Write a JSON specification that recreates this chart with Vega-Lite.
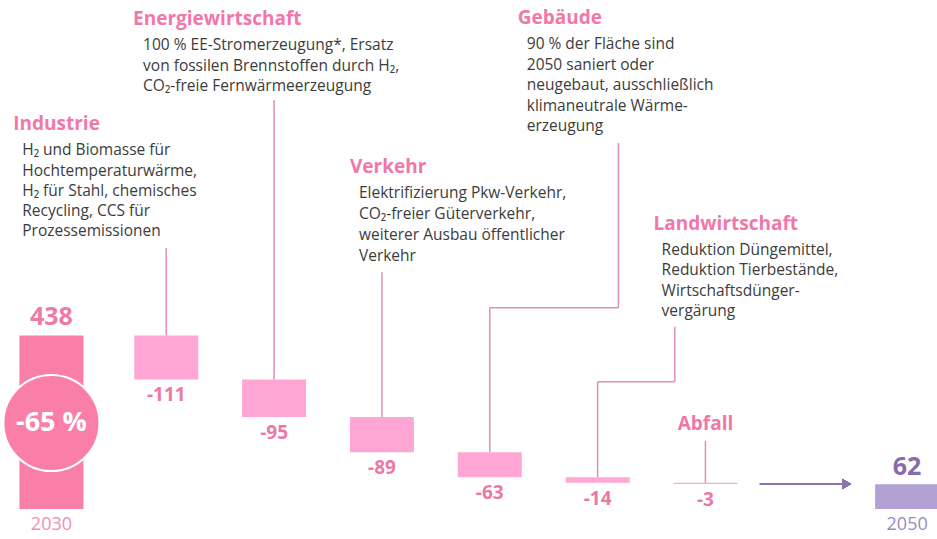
{
  "$schema": "https://vega.github.io/schema/vega-lite/v6.json",
  "width": 937,
  "height": 539,
  "autosize": {"type": "none"},
  "padding": 0,
  "background": "white",
  "config": {"view": {"stroke": null}, "font": "Open Sans"},
  "data": {
    "values": [
      {"key": "2030", "kind": "year", "i": 0, "start": 0, "end": 438, "label": "438", "change": "-65 %"},
      {"key": "Industrie", "kind": "sector", "i": 1, "start": 438, "end": 327, "label": "-111", "desc": ["H₂ und Biomasse für", "Hochtemperaturwärme,", "H₂ für Stahl, chemisches", "Recycling, CCS für", "Prozessemissionen"]},
      {"key": "Energiewirtschaft", "kind": "sector", "i": 2, "start": 327, "end": 232, "label": "-95", "desc": ["100 % EE-Stromerzeugung*, Ersatz", "von fossilen Brennstoffen durch H₂,", "CO₂-freie Fernwärmeerzeugung"]},
      {"key": "Verkehr", "kind": "sector", "i": 3, "start": 232, "end": 143, "label": "-89", "desc": ["Elektrifizierung Pkw-Verkehr,", "CO₂-freier Güterverkehr,", "weiterer Ausbau öffentlicher", "Verkehr"]},
      {"key": "Gebäude", "kind": "sector", "i": 4, "start": 143, "end": 80, "label": "-63", "desc": ["90 % der Fläche sind", "2050 saniert oder", "neugebaut, ausschließlich", "klimaneutrale Wärme-", "erzeugung"]},
      {"key": "Landwirtschaft", "kind": "sector", "i": 5, "start": 80, "end": 66, "label": "-14", "desc": ["Reduktion Düngemittel,", "Reduktion Tierbestände,", "Wirtschaftsdünger-", "vergärung"]},
      {"key": "Abfall", "kind": "sector", "i": 6, "start": 66, "end": 63, "label": "-3"},
      {"key": "2050", "kind": "year", "i": 8, "start": 0, "end": 62, "label": "62"}
    ]
  },
  "encoding": {
    "x": {"field": "i", "type": "quantitative", "scale": {"domain": [-0.4954, 8.1009], "nice": false, "zero": false}, "axis": null},
    "y": {"field": "start", "type": "quantitative", "scale": {"domain": [-76, 1285.4], "nice": false, "zero": false}, "axis": null}
  },
  "layer": [
    {
      "transform": [{"filter": {"field": "key", "equal": "Industrie"}}],
      "mark": {"type": "rule", "color": "#e190b9", "strokeWidth": 1.5},
      "encoding": {"y2": {"datum": 659}}
    },
    {
      "transform": [{"filter": {"field": "key", "equal": "Energiewirtschaft"}}],
      "mark": {"type": "rule", "color": "#e190b9", "strokeWidth": 1.5},
      "encoding": {"y2": {"datum": 1033}}
    },
    {
      "transform": [{"filter": {"field": "key", "equal": "Verkehr"}}],
      "mark": {"type": "rule", "color": "#e190b9", "strokeWidth": 1.5},
      "encoding": {"y2": {"datum": 598}}
    },
    {
      "transform": [{"filter": {"field": "key", "equal": "Gebäude"}}],
      "mark": {"type": "rule", "color": "#e190b9", "strokeWidth": 1.5},
      "encoding": {"y2": {"datum": 508}}
    },
    {
      "transform": [{"filter": {"field": "key", "equal": "Gebäude"}}],
      "mark": {"type": "rule", "color": "#e190b9", "strokeWidth": 1.5},
      "encoding": {"x2": {"datum": 5.193}, "y": {"datum": 508}}
    },
    {
      "transform": [{"filter": {"field": "key", "equal": "Gebäude"}}],
      "mark": {"type": "rule", "color": "#e190b9", "strokeWidth": 1.5},
      "encoding": {"x": {"datum": 5.193}, "y": {"datum": 508}, "y2": {"datum": 924}}
    },
    {
      "transform": [{"filter": {"field": "key", "equal": "Landwirtschaft"}}],
      "mark": {"type": "rule", "color": "#e190b9", "strokeWidth": 1.5},
      "encoding": {"y2": {"datum": 321}}
    },
    {
      "transform": [{"filter": {"field": "key", "equal": "Landwirtschaft"}}],
      "mark": {"type": "rule", "color": "#e190b9", "strokeWidth": 1.5},
      "encoding": {"x2": {"datum": 5.716}, "y": {"datum": 321}}
    },
    {
      "transform": [{"filter": {"field": "key", "equal": "Landwirtschaft"}}],
      "mark": {"type": "rule", "color": "#e190b9", "strokeWidth": 1.5},
      "encoding": {"x": {"datum": 5.716}, "y": {"datum": 321}, "y2": {"datum": 460}}
    },
    {
      "transform": [{"filter": {"field": "key", "equal": "Abfall"}}],
      "mark": {"type": "rule", "color": "#e190b9", "strokeWidth": 1.5},
      "encoding": {"y2": {"datum": 172}}
    },
    {
      "transform": [{"filter": {"field": "kind", "equal": "sector"}}],
      "mark": {"type": "bar", "width": 64, "color": "#ffa6d4"},
      "encoding": {"y2": {"field": "end"}}
    },
    {
      "transform": [{"filter": {"field": "key", "equal": "2030"}}],
      "mark": {"type": "bar", "width": 64, "color": "#f97fa9", "xOffset": -7},
      "encoding": {"y2": {"field": "end"}}
    },
    {
      "transform": [{"filter": {"field": "key", "equal": "2050"}}],
      "mark": {"type": "bar", "width": 64, "color": "#b3a1d4", "xOffset": -14},
      "encoding": {"y2": {"field": "end"}}
    },
    {
      "transform": [{"filter": {"field": "key", "equal": "2030"}}],
      "mark": {"type": "point", "shape": "circle", "filled": true, "size": 9216, "color": "#f97fa9", "stroke": "white", "strokeWidth": 2, "opacity": 1, "xOffset": -7},
      "encoding": {"y": {"datum": 217}}
    },
    {
      "transform": [{"filter": {"field": "key", "equal": "2030"}}],
      "mark": {"type": "text", "color": "white", "fontSize": 27, "fontWeight": "bold", "dx": -7, "baseline": "middle", "align": "center"},
      "encoding": {"y": {"datum": 217}, "text": {"field": "change"}}
    },
    {
      "mark": {"type": "rule", "color": "#8e73b0", "strokeWidth": 1.5},
      "encoding": {"x": {"datum": 6.505}, "x2": {"datum": 7.3}, "y": {"datum": 63}}
    },
    {
      "mark": {"type": "point", "shape": "triangle-right", "filled": true, "size": 110, "color": "#8e73b0", "opacity": 1},
      "encoding": {"x": {"datum": 7.31}, "y": {"datum": 63}}
    },
    {
      "transform": [{"filter": {"field": "kind", "equal": "sector"}}],
      "mark": {"type": "text", "color": "#ec78a6", "fontSize": 19, "fontWeight": "bold", "baseline": "middle", "align": "center", "dy": 16},
      "encoding": {"y": {"field": "end"}, "text": {"field": "label"}}
    },
    {
      "transform": [{"filter": {"field": "key", "equal": "2030"}}],
      "mark": {"type": "text", "color": "#f07aa6", "fontSize": 25, "fontWeight": "bold", "baseline": "middle", "align": "center", "dy": -18, "dx": -7},
      "encoding": {"y": {"field": "end"}, "text": {"field": "label"}}
    },
    {
      "transform": [{"filter": {"field": "key", "equal": "2050"}}],
      "mark": {"type": "text", "color": "#8a6aa8", "fontSize": 25, "fontWeight": "bold", "baseline": "middle", "align": "center", "dy": -17, "dx": -14},
      "encoding": {"y": {"field": "end"}, "text": {"field": "label"}}
    },
    {
      "transform": [{"filter": {"field": "key", "equal": "2030"}}],
      "mark": {"type": "text", "color": "#f08fb8", "fontSize": 18, "baseline": "middle", "align": "center", "dy": 16, "dx": -7},
      "encoding": {"text": {"field": "key"}}
    },
    {
      "transform": [{"filter": {"field": "key", "equal": "2050"}}],
      "mark": {"type": "text", "color": "#9c8bbb", "fontSize": 18, "baseline": "middle", "align": "center", "dy": 16, "dx": -14},
      "encoding": {"text": {"field": "key"}}
    },
    {
      "transform": [{"filter": {"field": "key", "equal": "Industrie"}}],
      "mark": {"type": "text", "color": "#f277a9", "fontSize": 19, "fontWeight": "bold", "align": "left", "baseline": "middle", "dx": -153},
      "encoding": {"y": {"datum": 972}, "text": {"field": "key"}}
    },
    {
      "transform": [{"filter": {"field": "key", "equal": "Industrie"}}],
      "mark": {"type": "text", "color": "#3c3c3c", "fontSize": 15.5, "lineHeight": 20.3, "align": "left", "baseline": "middle", "dx": -144},
      "encoding": {"y": {"datum": 906}, "text": {"field": "desc"}}
    },
    {
      "transform": [{"filter": {"field": "key", "equal": "Energiewirtschaft"}}],
      "mark": {"type": "text", "color": "#f277a9", "fontSize": 19, "fontWeight": "bold", "align": "left", "baseline": "middle", "dx": -141},
      "encoding": {"y": {"datum": 1237}, "text": {"field": "key"}}
    },
    {
      "transform": [{"filter": {"field": "key", "equal": "Energiewirtschaft"}}],
      "mark": {"type": "text", "color": "#3c3c3c", "fontSize": 15.5, "lineHeight": 20.8, "align": "left", "baseline": "middle", "dx": -131},
      "encoding": {"y": {"datum": 1172}, "text": {"field": "desc"}}
    },
    {
      "transform": [{"filter": {"field": "key", "equal": "Verkehr"}}],
      "mark": {"type": "text", "color": "#f277a9", "fontSize": 19, "fontWeight": "bold", "align": "left", "baseline": "middle", "dx": -32},
      "encoding": {"y": {"datum": 864}, "text": {"field": "key"}}
    },
    {
      "transform": [{"filter": {"field": "key", "equal": "Verkehr"}}],
      "mark": {"type": "text", "color": "#3c3c3c", "fontSize": 15.5, "lineHeight": 21, "align": "left", "baseline": "middle", "dx": -23},
      "encoding": {"y": {"datum": 798}, "text": {"field": "desc"}}
    },
    {
      "transform": [{"filter": {"field": "key", "equal": "Gebäude"}}],
      "mark": {"type": "text", "color": "#f277a9", "fontSize": 19, "fontWeight": "bold", "align": "left", "baseline": "middle", "dx": 28},
      "encoding": {"y": {"datum": 1240}, "text": {"field": "key"}}
    },
    {
      "transform": [{"filter": {"field": "key", "equal": "Gebäude"}}],
      "mark": {"type": "text", "color": "#3c3c3c", "fontSize": 15.5, "lineHeight": 20.6, "align": "left", "baseline": "middle", "dx": 37},
      "encoding": {"y": {"datum": 1174}, "text": {"field": "desc"}}
    },
    {
      "transform": [{"filter": {"field": "key", "equal": "Landwirtschaft"}}],
      "mark": {"type": "text", "color": "#f277a9", "fontSize": 19, "fontWeight": "bold", "align": "left", "baseline": "middle", "dx": 56},
      "encoding": {"y": {"datum": 720}, "text": {"field": "key"}}
    },
    {
      "transform": [{"filter": {"field": "key", "equal": "Landwirtschaft"}}],
      "mark": {"type": "text", "color": "#3c3c3c", "fontSize": 15.5, "lineHeight": 20.3, "align": "left", "baseline": "middle", "dx": 64},
      "encoding": {"y": {"datum": 654}, "text": {"field": "desc"}}
    },
    {
      "transform": [{"filter": {"field": "key", "equal": "Abfall"}}],
      "mark": {"type": "text", "color": "#f277a9", "fontSize": 19, "fontWeight": "bold", "align": "center", "baseline": "middle"},
      "encoding": {"y": {"datum": 215}, "text": {"field": "key"}}
    }
  ]
}
